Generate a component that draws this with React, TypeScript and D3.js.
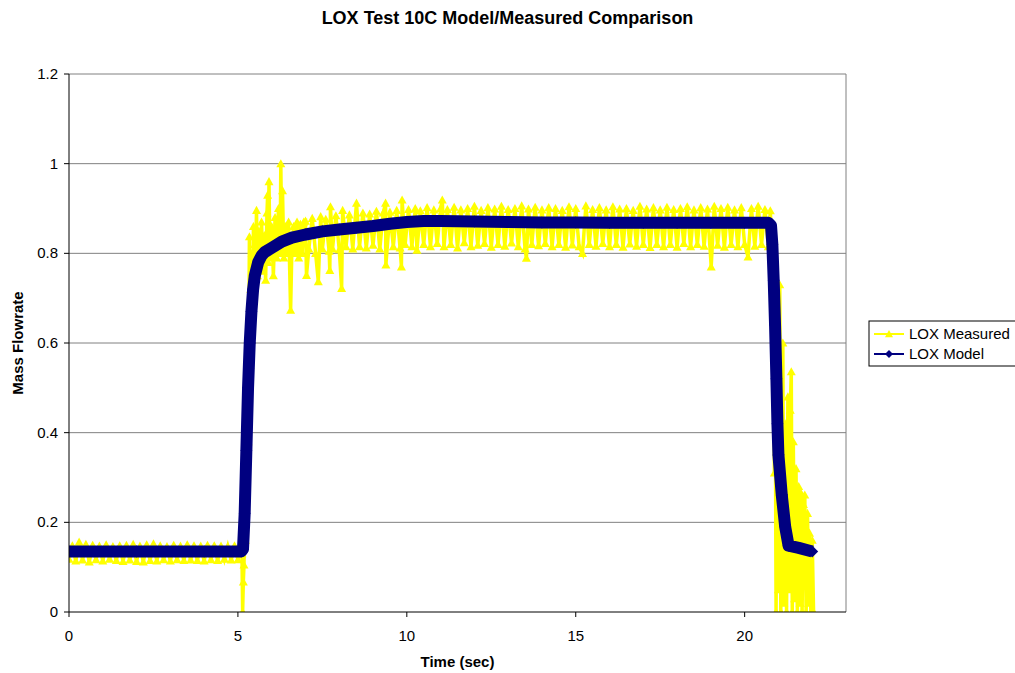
import * as d3 from "d3";

const W = 1015;
const H = 673;
const plot = { left: 69, right: 846, top: 74, bottom: 612 };
const font = "'Liberation Sans', Arial, sans-serif";

const chartTitle = "LOX Test 10C Model/Measured Comparison";
const xTitle = "Time (sec)";
const yTitle = "Mass Flowrate";
const xTicks = [0, 5, 10, 15, 20];
const yTicks = [0, 0.2, 0.4, 0.6, 0.8, 1, 1.2];
const seriesNames = ["LOX Measured", "LOX Model"];

// model run (time, flowrate)
const model: [number, number][] = [
  [0, 0.135], [2, 0.135], [4, 0.135], [5.1, 0.135], [5.15, 0.14], [5.2, 0.22],
  [5.25, 0.36], [5.3, 0.5], [5.35, 0.6], [5.4, 0.67], [5.45, 0.72], [5.5, 0.75],
  [5.6, 0.78], [5.7, 0.795], [5.8, 0.803], [6.0, 0.812], [6.3, 0.826], [6.6, 0.835],
  [7.0, 0.842], [7.5, 0.849], [8.0, 0.853], [8.5, 0.857], [9.0, 0.861], [9.5, 0.866],
  [10.0, 0.87], [10.5, 0.872], [11.0, 0.872], [12, 0.871], [13, 0.87], [14, 0.869],
  [15, 0.869], [16, 0.868], [17, 0.868], [18, 0.868], [19, 0.868], [20, 0.868],
  [20.7, 0.868], [20.78, 0.862], [20.82, 0.82], [20.86, 0.74], [20.9, 0.64],
  [20.94, 0.52], [20.97, 0.42], [21.0, 0.35], [21.1, 0.26], [21.2, 0.19],
  [21.3, 0.148], [21.6, 0.143], [22.0, 0.135],
];

// measured: pre-start idle flow
const measuredIdle: [number, number][] = [
  [0.0, 0.118], [0.1, 0.148], [0.2, 0.114], [0.3, 0.156], [0.4, 0.116], [0.5, 0.151],
  [0.6, 0.112], [0.7, 0.149], [0.8, 0.117], [0.9, 0.147], [1.0, 0.114], [1.1, 0.15],
  [1.2, 0.118], [1.3, 0.146], [1.4, 0.115], [1.5, 0.148], [1.6, 0.113], [1.7, 0.149],
  [1.8, 0.116], [1.9, 0.151], [2.0, 0.113], [2.1, 0.147], [2.2, 0.112], [2.3, 0.15],
  [2.4, 0.115], [2.5, 0.152], [2.6, 0.114], [2.7, 0.148], [2.8, 0.117], [2.9, 0.146],
  [3.0, 0.114], [3.1, 0.149], [3.2, 0.117], [3.3, 0.147], [3.4, 0.115], [3.5, 0.15],
  [3.6, 0.116], [3.7, 0.148], [3.8, 0.115], [3.9, 0.147], [4.0, 0.114], [4.1, 0.149],
  [4.2, 0.117], [4.3, 0.148], [4.4, 0.115], [4.5, 0.147], [4.6, 0.118], [4.7, 0.146],
  [4.8, 0.116], [4.9, 0.148], [5.0, 0.117], [5.1, 0.145],
];

// measured: start transient
const measuredRise: [number, number][] = [
  [5.12, 0.13], [5.14, 0.0], [5.16, 0.067], [5.18, 0.105], [5.2, 0.2], [5.22, 0.16],
  [5.24, 0.3], [5.26, 0.26], [5.28, 0.42], [5.3, 0.38], [5.32, 0.58], [5.34, 0.837],
  [5.36, 0.55], [5.38, 0.72], [5.4, 0.64], [5.42, 0.8], [5.44, 0.7], [5.46, 0.86],
  [5.48, 0.74], [5.5, 0.82], [5.52, 0.76], [5.55, 0.896], [5.58, 0.75], [5.62, 0.85],
  [5.66, 0.77], [5.7, 0.87], [5.74, 0.76], [5.78, 0.84], [5.82, 0.74], [5.86, 0.89],
  [5.88, 0.93], [5.9, 0.78], [5.92, 0.96], [5.95, 0.79], [6.0, 0.86], [6.05, 0.75],
  [6.1, 0.88], [6.15, 0.79], [6.2, 0.9], [6.25, 0.8], [6.27, 1.0], [6.3, 0.8],
  [6.32, 0.94], [6.36, 0.79], [6.4, 0.86], [6.45, 0.8], [6.5, 0.87], [6.56, 0.673],
  [6.6, 0.82], [6.65, 0.86], [6.7, 0.8], [6.75, 0.87], [6.8, 0.79], [6.85, 0.865],
  [6.9, 0.8], [6.95, 0.87],
];

// measured: mainstage
const measuredSteady: [number, number][] = [
  [7.0, 0.872], [7.03, 0.751], [7.1, 0.81], [7.2, 0.878], [7.3, 0.8], [7.38, 0.737],
  [7.45, 0.882], [7.5, 0.81], [7.6, 0.876], [7.7, 0.805], [7.72, 0.762], [7.74, 0.904],
  [7.8, 0.81], [7.9, 0.884], [8.0, 0.808], [8.07, 0.722], [8.1, 0.896], [8.2, 0.815],
  [8.3, 0.886], [8.4, 0.81], [8.51, 0.912], [8.6, 0.815], [8.7, 0.89], [8.8, 0.812],
  [8.9, 0.888], [9.0, 0.818], [9.1, 0.894], [9.2, 0.81], [9.3, 0.89], [9.37, 0.912],
  [9.38, 0.774], [9.5, 0.892], [9.6, 0.815], [9.7, 0.896], [9.8, 0.812], [9.84, 0.77],
  [9.86, 0.919], [9.95, 0.82], [10.05, 0.898], [10.15, 0.815], [10.25, 0.9], [10.3, 0.807],
  [10.4, 0.895], [10.5, 0.82], [10.6, 0.902], [10.7, 0.815], [10.8, 0.897], [10.9, 0.822],
  [11.0, 0.9], [11.05, 0.919], [11.1, 0.815], [11.2, 0.898], [11.3, 0.82], [11.4, 0.903],
  [11.5, 0.812], [11.6, 0.897], [11.7, 0.824], [11.8, 0.9], [11.9, 0.815], [12.0, 0.905],
  [12.1, 0.818], [12.2, 0.896], [12.3, 0.822], [12.4, 0.902], [12.5, 0.814], [12.6, 0.899],
  [12.7, 0.82], [12.8, 0.905], [12.9, 0.816], [13.0, 0.898], [13.1, 0.823], [13.2, 0.9],
  [13.3, 0.815], [13.4, 0.906], [13.5, 0.81], [13.54, 0.789], [13.6, 0.899], [13.7, 0.82],
  [13.8, 0.903], [13.9, 0.817], [14.0, 0.897], [14.1, 0.822], [14.2, 0.902], [14.3, 0.815],
  [14.4, 0.9], [14.5, 0.82], [14.6, 0.896], [14.7, 0.814], [14.8, 0.904], [14.9, 0.819],
  [15.0, 0.9], [15.1, 0.815], [15.2, 0.8], [15.3, 0.906], [15.4, 0.82], [15.5, 0.898],
  [15.6, 0.816], [15.7, 0.902], [15.8, 0.822], [15.9, 0.897], [16.0, 0.815], [16.1, 0.904],
  [16.2, 0.82], [16.3, 0.899], [16.4, 0.814], [16.5, 0.9], [16.6, 0.821], [16.7, 0.896],
  [16.8, 0.816], [16.9, 0.905], [17.0, 0.82], [17.1, 0.899], [17.2, 0.813], [17.3, 0.902],
  [17.4, 0.82], [17.5, 0.897], [17.6, 0.815], [17.7, 0.903], [17.8, 0.82], [17.9, 0.898],
  [18.0, 0.814], [18.1, 0.9], [18.2, 0.822], [18.3, 0.904], [18.4, 0.815], [18.5, 0.897],
  [18.6, 0.82], [18.7, 0.902], [18.8, 0.816], [18.9, 0.899], [19.01, 0.77], [19.1, 0.905],
  [19.2, 0.818], [19.3, 0.9], [19.4, 0.814], [19.5, 0.903], [19.6, 0.82], [19.7, 0.897],
  [19.8, 0.815], [19.9, 0.902], [20.0, 0.82], [20.1, 0.792], [20.2, 0.9], [20.3, 0.816],
  [20.4, 0.905], [20.5, 0.82], [20.6, 0.898], [20.7, 0.815],
];

// measured: shutdown
const measuredShutdown: [number, number][] = [
  [20.76, 0.895], [20.8, 0.82], [20.84, 0.78], [20.88, 0.31], [20.9, 0.62], [20.93, 0.0],
  [20.96, 0.45], [21.0, 0.05], [21.04, 0.73], [21.07, 0.0], [21.1, 0.38], [21.13, 0.6],
  [21.16, 0.02], [21.2, 0.42], [21.24, 0.0], [21.28, 0.48], [21.31, 0.05], [21.35, 0.45],
  [21.38, 0.536], [21.41, 0.0], [21.44, 0.38], [21.48, 0.03], [21.52, 0.32], [21.56, 0.0],
  [21.6, 0.28], [21.64, 0.02], [21.67, 0.265], [21.7, 0.0], [21.74, 0.24], [21.78, 0.261],
  [21.82, 0.0], [21.86, 0.22], [21.9, 0.02], [21.92, 0.176], [21.96, 0.0], [22.0, 0.16],
  [22.04, 0.0],
];

const measured = [...measuredIdle, ...measuredRise, ...measuredSteady, ...measuredShutdown];

const YELLOW = "#FFFF00";
const NAVY = "#000080";

const triangle = (s: number) => `M0,${-s}L${s},${s * 0.8}L${-s},${s * 0.8}Z`;
const diamond = (r: number) => `M0,${-r}L${r},0L0,${r}L${-r},0Z`;

export default function App() {
  const x = d3.scaleLinear().domain([0, 23]).range([plot.left, plot.right]);
  const y = d3.scaleLinear().domain([0, 1.2]).range([plot.bottom, plot.top]);

  const line = d3
    .line<[number, number]>()
    .x(d => x(d[0]))
    .y(d => y(d[1]));

  const legendX = 869;
  const legendY = 321;

  return (
    <svg
      width={W}
      height={H}
      style={{ position: "absolute", left: 0, top: 0, background: "#fff" }}
      fontFamily={font}
    >
      <defs>
        <clipPath id="plotClip">
          <rect x={plot.left} y={plot.top - 10} width={plot.right - plot.left} height={plot.bottom - plot.top + 10} />
        </clipPath>
      </defs>

      <text x={W / 2} y={24} textAnchor="middle" fontSize={18} fontWeight="bold">
        {chartTitle}
      </text>

      {/* gridlines */}
      {yTicks.filter(t => t > 0).map(t => (
        <line key={t} x1={plot.left} x2={plot.right} y1={y(t)} y2={y(t)} stroke="#808080" strokeWidth={1} />
      ))}
      <line x1={plot.right} x2={plot.right} y1={plot.top} y2={plot.bottom} stroke="#808080" strokeWidth={1} />

      <g clipPath="url(#plotClip)">
        <path d={line(measured) ?? ""} fill="none" stroke={YELLOW} strokeWidth={3.5} />
        {measured.map((d, i) => (
          <path key={i} d={triangle(4.5)} transform={`translate(${x(d[0])},${y(d[1])})`} fill={YELLOW} />
        ))}
        <path d={line(model) ?? ""} fill="none" stroke={NAVY} strokeWidth={12} strokeLinejoin="round" />
        {model.map((d, i) => (
          <path key={i} d={diamond(6)} transform={`translate(${x(d[0])},${y(d[1])})`} fill={NAVY} />
        ))}
      </g>

      {/* axes */}
      <line x1={plot.left} x2={plot.left} y1={plot.top} y2={plot.bottom} stroke="#000" strokeWidth={1} />
      <line x1={plot.left} x2={plot.right} y1={plot.bottom} y2={plot.bottom} stroke="#000" strokeWidth={1} />
      {yTicks.map(t => (
        <g key={t}>
          <line x1={plot.left - 5} x2={plot.left} y1={y(t)} y2={y(t)} stroke="#000" />
          <text x={plot.left - 11} y={y(t) + 5} textAnchor="end" fontSize={15}>
            {d3.format("~g")(t)}
          </text>
        </g>
      ))}
      {xTicks.map(t => (
        <g key={t}>
          <line x1={x(t)} x2={x(t)} y1={plot.bottom} y2={plot.bottom + 5} stroke="#000" />
          <text x={x(t)} y={641} textAnchor="middle" fontSize={15}>
            {t}
          </text>
        </g>
      ))}

      <text x={(plot.left + plot.right) / 2} y={667} textAnchor="middle" fontSize={15} fontWeight="bold">
        {xTitle}
      </text>
      <text
        transform={`translate(23,${(plot.top + plot.bottom) / 2}) rotate(-90)`}
        textAnchor="middle"
        fontSize={15}
        fontWeight="bold"
      >
        {yTitle}
      </text>

      {/* legend */}
      <rect x={legendX} y={legendY} width={170} height={45} fill="#fff" stroke="#000" />
      {seriesNames.map((name, i) => {
        const cy = legendY + 13 + i * 20;
        const color = i === 0 ? YELLOW : NAVY;
        return (
          <g key={name}>
            <line x1={legendX + 5} x2={legendX + 35} y1={cy} y2={cy} stroke={color} strokeWidth={2} />
            <path
              d={i === 0 ? triangle(4) : diamond(4)}
              transform={`translate(${legendX + 20},${cy})`}
              fill={color}
            />
            <text x={legendX + 40} y={cy + 5} fontSize={15}>
              {name}
            </text>
          </g>
        );
      })}
    </svg>
  );
}
